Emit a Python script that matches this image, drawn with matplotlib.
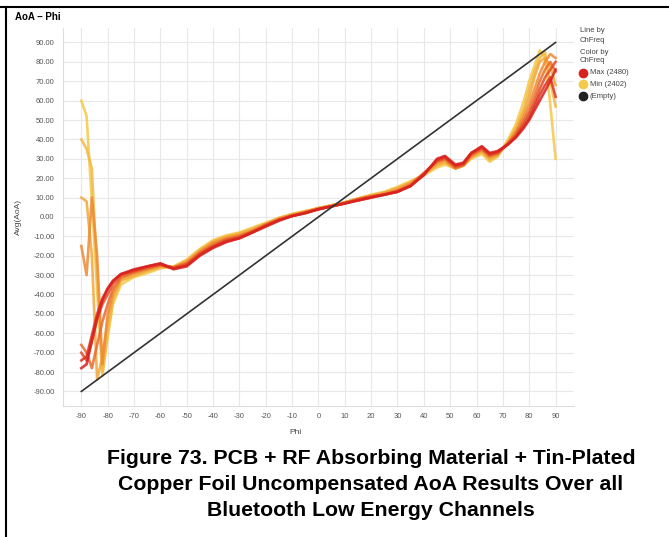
import numpy as np
import matplotlib
matplotlib.use('Agg')
import matplotlib.pyplot as plt
from matplotlib.colors import LinearSegmentedColormap
from matplotlib.lines import Line2D

plt.rcParams['font.family'] = ['Liberation Sans', 'DejaVu Sans']
plt.rcParams['axes.unicode_minus'] = False

# phi grid (deg) shared by all channel curves
phi = [-90, -88, -86, -84, -82, -80, -78, -75, -70, -65, -60, -55, -50, -45, -40,
       -35, -30, -25, -20, -15, -10, -5, 0, 5, 10, 15, 20, 25, 30, 35, 40, 45,
       48, 52, 55, 58, 62, 65, 68, 72, 75, 78, 80, 82, 84, 86, 88, 90]

# Avg(AoA) per channel (yellow 2402 -> red 2480)
ch_freq = [2402, 2414, 2426, 2438, 2450, 2462, 2472, 2480]
aoa_2402 = [60, 52, 8, -38, -82, -62, -45, -35, -31, -29, -26.5, -25.5, -22, -16.5, -12,
            -9.5, -8, -5.5, -3, -0.5, 1.5, 3, 4.5, 6, 7.5, 9.5, 11.5, 13, 15.5, 18.5, 21.5, 25.5,
            27, 25, 26.5, 30, 32.5, 28.5, 31, 40, 48, 60, 70, 78, 86, 82, 58, 30]
aoa_2414 = [40, 35, 25, -30, -80, -60, -43, -33, -30.5, -28, -26, -26, -22.5, -17, -12.5,
            -10, -8.5, -6, -3.5, -0.5, 1.5, 3, 4.5, 6, 7.5, 9.5, 11, 12.5, 15, 18, 22, 26.5,
            28, 25, 26.5, 30.5, 33.5, 29.5, 31.5, 39, 46, 56, 66, 75, 82, 85, 70, 57]
aoa_2426 = [10, 8, -20, -84, -72, -54, -41, -32.5, -30, -27.5, -25.5, -26, -23, -17.5, -13,
            -10.5, -9, -6.5, -3.5, -1, 1, 2.5, 4.5, 6, 7.5, 9.5, 11, 12.5, 14.5, 17.5, 22, 27,
            28.5, 25, 26.5, 31, 34, 30, 32, 38.5, 45, 54, 62, 72, 80, 82, 78, 68]
aoa_2438 = [-15, -30, 10, -20, -76, -50, -39, -31.5, -29, -27, -25, -26, -23.5, -18, -13.5,
            -11, -9.5, -7, -4, -1, 1, 2.5, 4.5, 5.5, 7.5, 9, 10.5, 12, 14, 17, 22.5, 28,
            29.5, 25, 26.5, 31.5, 34.5, 31, 32.5, 38, 44, 52, 58, 66, 74, 80, 84, 82]
aoa_2450 = [-66, -70, -78, -66, -54, -45, -37, -31, -28.5, -26.5, -25, -26, -24, -18.5, -14.5,
            -11.5, -10, -7.5, -4, -1.5, 0.5, 2.5, 4, 5.5, 7, 9, 10.5, 11.5, 13.5, 16.5, 22.5, 28.5,
            30, 25.5, 27, 32, 35, 31.5, 33, 38, 43, 50, 55, 62, 70, 76, 80, 75]
aoa_2462 = [-70, -74, -64, -53, -45, -40, -34.5, -30, -28, -26, -24.5, -26.5, -24.5, -19, -15,
            -12, -10.5, -7.5, -4.5, -1.5, 0.5, 2, 4, 5.5, 7, 9, 10.5, 11.5, 13, 16, 22.5, 29,
            30.5, 26, 27, 32.5, 35.5, 32, 33, 37.5, 42, 48.5, 53, 59, 66, 72, 76, 80]
aoa_2472 = [-74, -72, -61, -50, -42, -37, -33, -29.5, -27.5, -25.5, -24, -26.5, -25, -19.5, -15.5,
            -12.5, -11, -8, -4.5, -1.5, 0.5, 2, 4, 5.5, 7, 8.5, 10, 11.5, 13, 16, 22, 29.5,
            31, 26.5, 27.5, 33, 36, 32.5, 33.5, 37.5, 41.5, 47, 51, 57, 63, 68, 72, 62]
aoa_2480 = [-78, -76, -64, -52, -43, -37, -33, -29.5, -27, -25.5, -24, -27, -25.5, -20, -16,
            -13, -11, -8, -5, -2, 0.5, 2, 4, 5.5, 7, 8.5, 10, 11.5, 13, 16, 21.5, 30,
            31.5, 27, 28, 33, 36.5, 33, 34, 37.5, 41, 46, 50, 55, 60, 65, 70, 76]
channels = [aoa_2402, aoa_2414, aoa_2426, aoa_2438, aoa_2450, aoa_2462, aoa_2472, aoa_2480]

# reference (empty ChFreq) line
ref_phi = [-90, 90]
ref_aoa = [-90, 90]

xticks = np.arange(-90, 91, 10)
yticks = np.arange(-90, 91, 10)

cmap = LinearSegmentedColormap.from_list('ch', ['#f4c94a', '#f2a53a', '#e8602c', '#d8201e'])

fig = plt.figure(figsize=(6.69, 5.37), dpi=100)
ax = fig.add_axes([0.094, 0.244, 0.764, 0.704])

for i, (f, vals) in enumerate(zip(ch_freq, channels)):
    t = (f - ch_freq[0]) / (ch_freq[-1] - ch_freq[0])
    ax.plot(phi, vals, color=cmap(t), lw=1.9, alpha=0.85, solid_joinstyle='round', zorder=2 + i)
ax.plot(ref_phi, ref_aoa, color='#333333', lw=1.2, zorder=20)

ax.set_xlim(-97, 97)
ax.set_ylim(-97.5, 97.5)
ax.set_xticks(xticks)
ax.set_xticklabels([str(v) for v in xticks])
ax.set_yticks(yticks)
ax.set_yticklabels(['%.2f' % v for v in yticks])
ax.tick_params(length=0, labelsize=5.5, labelcolor='#555555')
ax.tick_params(axis='x', pad=5)
ax.tick_params(axis='y', pad=6)
ax.grid(True, color='#e8e8e8', lw=0.8)
ax.set_axisbelow(True)
for s in ['top', 'right']:
    ax.spines[s].set_visible(False)
for s in ['left', 'bottom']:
    ax.spines[s].set_color('#dddddd')
    ax.spines[s].set_linewidth(0.8)

fig.text(295 / 669, 1 - 432 / 537, 'Phi', fontsize=6, color='#444444', ha='center', va='center')
fig.text(18 / 669, 1 - 217 / 537, 'Avg(AoA)', rotation=90, fontsize=6, color='#444444',
         ha='center', va='center')

fig.text(15 / 669, 1 - 17 / 537, 'AoA \u2013 Phi', fontsize=7, fontweight='bold', va='center')

# legend panel
lx = 580 / 669
for y, s in [(31, 'Line by'), (40, 'ChFreq'), (52, 'Color by'), (61, 'ChFreq')]:
    fig.text(lx, 1 - y / 537, s, fontsize=5.5, color='#444444', va='center')
for y, c, s in [(73, '#d8201e', 'Max (2480)'), (84, '#f4c94a', 'Min (2402)'), (96, '#222222', '(Empty)')]:
    fig.add_artist(Line2D([583 / 669], [1 - y / 537], marker='o', ms=6, color=c, mec=c, lw=0))
    fig.text(590 / 669, 1 - y / 537, s, fontsize=5.5, color='#444444', va='center')

# page frame lines
fig.add_artist(Line2D([0, 1], [1 - 7 / 537, 1 - 7 / 537], color='black', lw=1.5))
fig.add_artist(Line2D([6 / 669, 6 / 669], [0, 1 - 7 / 537], color='black', lw=1.5))

caption = ['Figure 73. PCB + RF Absorbing Material + Tin-Plated',
           'Copper Foil Uncompensated AoA Results Over all',
           'Bluetooth Low Energy Channels']
for k, line in enumerate(caption):
    fig.text(371 / 669, 1 - (458 + 26 * k) / 537, line, fontsize=15.3, fontweight='bold',
             ha='center', va='center')

fig.savefig('out.png', dpi=100)
